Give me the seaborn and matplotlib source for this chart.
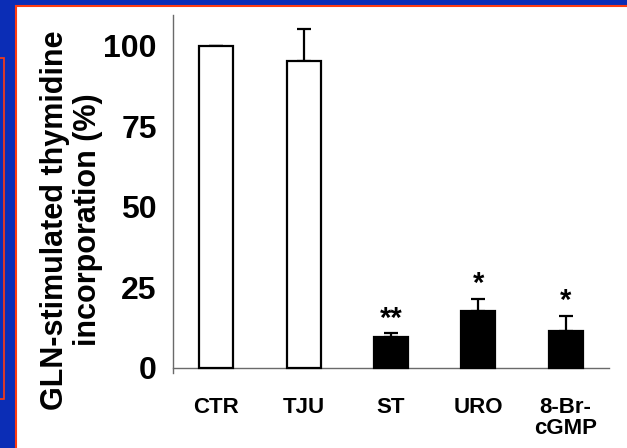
import numpy as np
import pandas as pd
import matplotlib
matplotlib.use("Agg")
import matplotlib.pyplot as plt
from matplotlib.patches import Rectangle
from matplotlib.ticker import MultipleLocator, FixedLocator, NullFormatter, FixedFormatter
import seaborn as sns

# ---- data ----
categories = ["CTR", "TJU", "ST", "URO", "8-Br-\ncGMP"]
values = [100.0, 95.2, 9.6, 17.5, 11.5]
errors = [0.0, 10.0, 1.1, 3.8, 4.6]
bar_colors = ["white", "white", "black", "black", "black"]
significance = ["", "", "**", "*", "*"]
ylabel_text = "GLN-stimulated thymidine\nincorporation (%)"
yticks = [0, 25, 50, 75, 100]

sns.set_theme(style="white")
plt.rcParams["font.family"] = ["Liberation Sans", "DejaVu Sans"]
plt.rcParams["font.weight"] = "bold"

BLUE = "#0b2db6"
ORANGE = "#ff3c10"

fig = plt.figure(figsize=(6.27, 4.48), dpi=100, facecolor=BLUE)
W, H = 627.0, 448.0

# white slide panel with orange border
fig.patches.append(Rectangle((16 / W, -0.05), 1.1, (448 - 6) / H + 0.05,
                             transform=fig.transFigure, facecolor="white",
                             edgecolor=ORANGE, linewidth=1.5, zorder=-10))
# partial box at left edge
fig.patches.append(Rectangle((-10 / W, (448 - 399) / H), 13.5 / W, (399 - 58) / H,
                             transform=fig.transFigure, facecolor=BLUE,
                             edgecolor=ORANGE, linewidth=1.2, zorder=-10))

# axes placement
x_left, x_right = 172.7, 609.3
y_top, y_bot = 15.0, 373.2
ax = fig.add_axes([x_left / W, (H - y_bot) / H, (x_right - x_left) / W, (y_bot - y_top) / H])
ax.set_zorder(5)
ax.set_facecolor("none")

df = pd.DataFrame({"cat": categories, "val": values})
sns.barplot(data=df, x="cat", y="val", hue="cat", palette=bar_colors,
            edgecolor="black", linewidth=1.6, width=0.39, legend=False,
            ax=ax, zorder=3)

pos = np.arange(len(categories))
ax.errorbar(pos, values, yerr=[np.zeros(len(errors)), errors], fmt="none",
            ecolor="black", elinewidth=1.6, capsize=5, capthick=1.6, zorder=2)

for p, v, e, s in zip(pos, values, errors, significance):
    if s:
        ax.annotate(s, (p, v + e), xytext=(0, 0.5), textcoords="offset points",
                    ha="center", va="bottom", fontsize=21, fontweight="bold",
                    color="black")

ax.set_xlim(-0.5, len(categories) - 0.5)
ax.set_ylim(-1.7, 109.5)

for side in ["top", "right"]:
    ax.spines[side].set_visible(False)
ax.spines["bottom"].set_position(("data", 0))
for side in ["left", "bottom"]:
    ax.spines[side].set_color("#6a6a6a")
    ax.spines[side].set_linewidth(1.0)

# y ticks
ax.yaxis.set_major_locator(FixedLocator(yticks))
ax.yaxis.set_minor_locator(MultipleLocator(12.5))
ax.set_yticklabels([str(t) for t in yticks])
ax.tick_params(axis="y", which="major", direction="out", length=6, width=1,
               color="#555555", pad=5.5, labelsize=23, labelcolor="black")
ax.tick_params(axis="y", which="minor", direction="out", length=3.6, width=1,
               color="#555555")
for t in ax.get_yticklabels():
    t.set_fontweight("bold")

# x ticks: marks at boundaries, labels at centers
ax.xaxis.set_major_locator(FixedLocator(np.arange(-0.5, len(categories), 1.0)))
ax.xaxis.set_major_formatter(NullFormatter())
ax.xaxis.set_minor_locator(FixedLocator(pos))
ax.xaxis.set_minor_formatter(FixedFormatter(categories))
ax.tick_params(axis="x", which="major", direction="out", length=4.3, width=1,
               color="#555555")
ax.tick_params(axis="x", which="minor", length=0, pad=21, labelsize=16,
               labelcolor="black")
for t in ax.xaxis.get_minorticklabels():
    t.set_fontweight("bold")
    t.set_linespacing(1.0)
    t.set_verticalalignment("top")

ax.set_xlabel("")
ax.set_ylabel(ylabel_text, fontsize=22, fontweight="bold", color="black",
              linespacing=1.15)
ax.yaxis.set_label_coords((103 - x_left) / (x_right - x_left),
                          (y_bot - 220) / (y_bot - y_top))

fig.savefig("out.png", dpi=100, facecolor=BLUE)
